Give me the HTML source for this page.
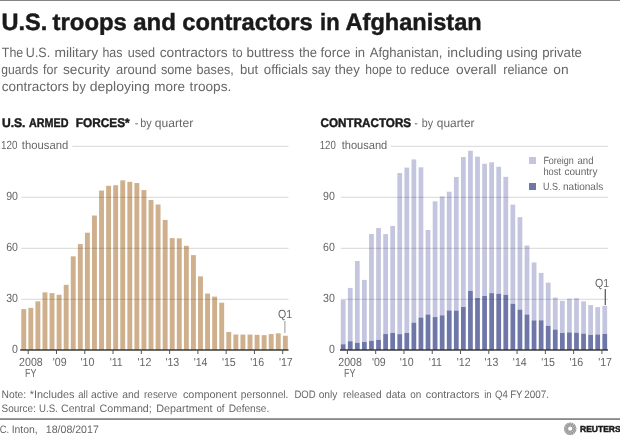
<!DOCTYPE html>
<html lang="en"><head><meta charset="utf-8"><title>U.S. troops and contractors in Afghanistan</title>
<style>html,body{margin:0;padding:0;background:#fff}body{width:620px;height:436px;overflow:hidden}svg{display:block}text{font-family:"Liberation Sans",sans-serif;white-space:pre;text-rendering:geometricPrecision}.b{font-weight:bold;fill:#1a1a1a;stroke:#1a1a1a;stroke-width:0.45px}.l{fill:#666666}</style></head><body>
<svg width="620" height="436" viewBox="0 0 620 436">
<rect width="620" height="436" fill="#fff"/>
<rect x="0" y="0" width="620" height="1" fill="#858585"/>
<text y="30.1" font-size="23.5" class="b"><tspan x="1.50" textLength="45.84" lengthAdjust="spacingAndGlyphs">U.S.</tspan> <tspan x="52.60" textLength="74.27" lengthAdjust="spacingAndGlyphs">troops</tspan> <tspan x="133.20" textLength="42.68" lengthAdjust="spacingAndGlyphs">and</tspan> <tspan x="182.30" textLength="130.47" lengthAdjust="spacingAndGlyphs">contractors</tspan> <tspan x="320.07" textLength="19.50" lengthAdjust="spacingAndGlyphs">in</tspan> <tspan x="345.60" textLength="136.06" lengthAdjust="spacingAndGlyphs">Afghanistan</tspan></text>
<text y="56.5" font-size="13.5" class="l"><tspan x="1.84" textLength="21.40" lengthAdjust="spacingAndGlyphs">The</tspan> <tspan x="25.87" textLength="24.32" lengthAdjust="spacingAndGlyphs">U.S.</tspan> <tspan x="54.40" textLength="43.74" lengthAdjust="spacingAndGlyphs">military</tspan> <tspan x="102.48" textLength="20.02" lengthAdjust="spacingAndGlyphs">has</tspan> <tspan x="127.70" textLength="27.48" lengthAdjust="spacingAndGlyphs">used</tspan> <tspan x="159.70" textLength="67.95" lengthAdjust="spacingAndGlyphs">contractors</tspan> <tspan x="232.31" textLength="10.36" lengthAdjust="spacingAndGlyphs">to</tspan> <tspan x="246.50" textLength="47.65" lengthAdjust="spacingAndGlyphs">buttress</tspan> <tspan x="298.90" textLength="18.19" lengthAdjust="spacingAndGlyphs">the</tspan> <tspan x="320.60" textLength="29.80" lengthAdjust="spacingAndGlyphs">force</tspan> <tspan x="354.90" textLength="10.19" lengthAdjust="spacingAndGlyphs">in</tspan> <tspan x="369.70" textLength="72.73" lengthAdjust="spacingAndGlyphs">Afghanistan,</tspan> <tspan x="447.26" textLength="55.41" lengthAdjust="spacingAndGlyphs">including</tspan> <tspan x="506.30" textLength="31.70" lengthAdjust="spacingAndGlyphs">using</tspan> <tspan x="542.20" textLength="39.80" lengthAdjust="spacingAndGlyphs">private</tspan></text>
<text y="73.6" font-size="13.5" class="l"><tspan x="1.37" textLength="37.04" lengthAdjust="spacingAndGlyphs">guards</tspan> <tspan x="43.00" textLength="14.53" lengthAdjust="spacingAndGlyphs">for</tspan> <tspan x="62.91" textLength="47.32" lengthAdjust="spacingAndGlyphs">security</tspan> <tspan x="116.00" textLength="40.39" lengthAdjust="spacingAndGlyphs">around</tspan> <tspan x="160.90" textLength="31.18" lengthAdjust="spacingAndGlyphs">some</tspan> <tspan x="196.60" textLength="37.10" lengthAdjust="spacingAndGlyphs">bases,</tspan> <tspan x="240.00" textLength="18.26" lengthAdjust="spacingAndGlyphs">but</tspan> <tspan x="263.80" textLength="44.05" lengthAdjust="spacingAndGlyphs">officials</tspan> <tspan x="311.81" textLength="18.85" lengthAdjust="spacingAndGlyphs">say</tspan> <tspan x="334.80" textLength="24.96" lengthAdjust="spacingAndGlyphs">they</tspan> <tspan x="365.20" textLength="26.95" lengthAdjust="spacingAndGlyphs">hope</tspan> <tspan x="396.03" textLength="10.10" lengthAdjust="spacingAndGlyphs">to</tspan> <tspan x="410.40" textLength="39.18" lengthAdjust="spacingAndGlyphs">reduce</tspan> <tspan x="456.07" textLength="40.46" lengthAdjust="spacingAndGlyphs">overall</tspan> <tspan x="503.30" textLength="44.38" lengthAdjust="spacingAndGlyphs">reliance</tspan> <tspan x="553.37" textLength="15.28" lengthAdjust="spacingAndGlyphs">on</tspan></text>
<text y="90.5" font-size="13.5" class="l"><tspan x="1.70" textLength="67.05" lengthAdjust="spacingAndGlyphs">contractors</tspan> <tspan x="72.35" textLength="13.36" lengthAdjust="spacingAndGlyphs">by</tspan> <tspan x="89.70" textLength="60.03" lengthAdjust="spacingAndGlyphs">deploying</tspan> <tspan x="154.30" textLength="30.71" lengthAdjust="spacingAndGlyphs">more</tspan> <tspan x="189.60" textLength="41.66" lengthAdjust="spacingAndGlyphs">troops.</tspan></text>
<text y="126.7" font-size="12.5" class="b"><tspan x="1.90" textLength="23.56" lengthAdjust="spacingAndGlyphs">U.S.</tspan> <tspan x="29.00" textLength="39.52" lengthAdjust="spacingAndGlyphs">ARMED</tspan> <tspan x="75.80" textLength="53.87" lengthAdjust="spacingAndGlyphs">FORCES*</tspan></text>
<text y="126.6" font-size="12.0" class="l"><tspan x="134.75" textLength="3.59" lengthAdjust="spacingAndGlyphs">-</tspan> <tspan x="140.26" textLength="11.38" lengthAdjust="spacingAndGlyphs">by</tspan> <tspan x="154.80" textLength="38.40" lengthAdjust="spacingAndGlyphs">quarter</tspan></text>
<text y="126.7" font-size="12.5" class="b"><tspan x="320.60" textLength="90.51" lengthAdjust="spacingAndGlyphs">CONTRACTORS</tspan></text>
<text y="126.6" font-size="12.0" class="l"><tspan x="414.32" textLength="3.57" lengthAdjust="spacingAndGlyphs">-</tspan> <tspan x="421.74" textLength="11.31" lengthAdjust="spacingAndGlyphs">by</tspan> <tspan x="436.80" textLength="37.70" lengthAdjust="spacingAndGlyphs">quarter</tspan></text>
<rect x="21.30" y="309.10" width="4.9" height="40.90" fill="#cfb08d"/>
<rect x="28.37" y="307.87" width="4.9" height="42.13" fill="#cfb08d"/>
<rect x="35.44" y="301.30" width="4.9" height="48.70" fill="#cfb08d"/>
<rect x="42.51" y="292.37" width="4.9" height="57.63" fill="#cfb08d"/>
<rect x="49.58" y="293.13" width="4.9" height="56.86" fill="#cfb08d"/>
<rect x="56.65" y="294.75" width="4.9" height="55.25" fill="#cfb08d"/>
<rect x="63.72" y="284.81" width="4.9" height="65.19" fill="#cfb08d"/>
<rect x="70.79" y="256.32" width="4.9" height="93.68" fill="#cfb08d"/>
<rect x="77.86" y="244.09" width="4.9" height="105.91" fill="#cfb08d"/>
<rect x="84.93" y="232.70" width="4.9" height="117.30" fill="#cfb08d"/>
<rect x="92.00" y="215.53" width="4.9" height="134.47" fill="#cfb08d"/>
<rect x="99.07" y="190.54" width="4.9" height="159.46" fill="#cfb08d"/>
<rect x="106.14" y="185.78" width="4.9" height="164.22" fill="#cfb08d"/>
<rect x="113.21" y="185.27" width="4.9" height="164.73" fill="#cfb08d"/>
<rect x="120.28" y="180.34" width="4.9" height="169.66" fill="#cfb08d"/>
<rect x="127.35" y="181.87" width="4.9" height="168.13" fill="#cfb08d"/>
<rect x="134.42" y="183.06" width="4.9" height="166.94" fill="#cfb08d"/>
<rect x="141.49" y="190.03" width="4.9" height="159.97" fill="#cfb08d"/>
<rect x="148.56" y="200.06" width="4.9" height="149.94" fill="#cfb08d"/>
<rect x="155.63" y="204.48" width="4.9" height="145.52" fill="#cfb08d"/>
<rect x="162.70" y="219.95" width="4.9" height="130.05" fill="#cfb08d"/>
<rect x="169.77" y="238.14" width="4.9" height="111.86" fill="#cfb08d"/>
<rect x="176.84" y="238.31" width="4.9" height="111.69" fill="#cfb08d"/>
<rect x="183.91" y="245.79" width="4.9" height="104.21" fill="#cfb08d"/>
<rect x="190.98" y="255.14" width="4.9" height="94.86" fill="#cfb08d"/>
<rect x="198.05" y="276.39" width="4.9" height="73.61" fill="#cfb08d"/>
<rect x="205.12" y="293.56" width="4.9" height="56.44" fill="#cfb08d"/>
<rect x="212.19" y="296.62" width="4.9" height="53.38" fill="#cfb08d"/>
<rect x="219.26" y="302.74" width="4.9" height="47.26" fill="#cfb08d"/>
<rect x="226.33" y="331.98" width="4.9" height="18.02" fill="#cfb08d"/>
<rect x="233.40" y="334.53" width="4.9" height="15.47" fill="#cfb08d"/>
<rect x="240.47" y="334.60" width="4.9" height="15.40" fill="#cfb08d"/>
<rect x="247.54" y="334.53" width="4.9" height="15.47" fill="#cfb08d"/>
<rect x="254.61" y="334.82" width="4.9" height="15.18" fill="#cfb08d"/>
<rect x="261.68" y="335.16" width="4.9" height="14.84" fill="#cfb08d"/>
<rect x="268.75" y="334.08" width="4.9" height="15.92" fill="#cfb08d"/>
<rect x="275.82" y="333.34" width="4.9" height="16.66" fill="#cfb08d"/>
<rect x="282.89" y="335.72" width="4.9" height="14.28" fill="#cfb08d"/>
<rect x="340.80" y="299.90" width="4.75" height="44.35" fill="#c4c6df"/>
<rect x="340.80" y="344.24" width="4.75" height="5.76" fill="#6f77a8"/>
<rect x="347.87" y="287.92" width="4.75" height="53.32" fill="#c4c6df"/>
<rect x="347.87" y="341.24" width="4.75" height="8.76" fill="#6f77a8"/>
<rect x="354.94" y="261.03" width="4.75" height="81.80" fill="#c4c6df"/>
<rect x="354.94" y="342.83" width="4.75" height="7.17" fill="#6f77a8"/>
<rect x="362.01" y="279.91" width="4.75" height="62.06" fill="#c4c6df"/>
<rect x="362.01" y="341.97" width="4.75" height="8.03" fill="#6f77a8"/>
<rect x="369.08" y="233.97" width="4.75" height="106.84" fill="#c4c6df"/>
<rect x="369.08" y="340.81" width="4.75" height="9.19" fill="#6f77a8"/>
<rect x="376.15" y="228.02" width="4.75" height="111.85" fill="#c4c6df"/>
<rect x="376.15" y="339.87" width="4.75" height="10.13" fill="#6f77a8"/>
<rect x="383.22" y="234.07" width="4.75" height="99.99" fill="#c4c6df"/>
<rect x="383.22" y="334.06" width="4.75" height="15.94" fill="#6f77a8"/>
<rect x="390.29" y="225.95" width="4.75" height="106.98" fill="#c4c6df"/>
<rect x="390.29" y="332.94" width="4.75" height="17.06" fill="#6f77a8"/>
<rect x="397.36" y="173.03" width="4.75" height="161.12" fill="#c4c6df"/>
<rect x="397.36" y="334.15" width="4.75" height="15.85" fill="#6f77a8"/>
<rect x="404.43" y="167.60" width="4.75" height="165.37" fill="#c4c6df"/>
<rect x="404.43" y="332.97" width="4.75" height="17.03" fill="#6f77a8"/>
<rect x="411.50" y="159.44" width="4.75" height="163.22" fill="#c4c6df"/>
<rect x="411.50" y="322.66" width="4.75" height="27.34" fill="#6f77a8"/>
<rect x="418.57" y="167.29" width="4.75" height="150.24" fill="#c4c6df"/>
<rect x="418.57" y="317.52" width="4.75" height="32.48" fill="#6f77a8"/>
<rect x="425.64" y="229.98" width="4.75" height="84.53" fill="#c4c6df"/>
<rect x="425.64" y="314.51" width="4.75" height="35.49" fill="#6f77a8"/>
<rect x="432.71" y="201.28" width="4.75" height="115.77" fill="#c4c6df"/>
<rect x="432.71" y="317.05" width="4.75" height="32.95" fill="#6f77a8"/>
<rect x="439.78" y="196.42" width="4.75" height="118.87" fill="#c4c6df"/>
<rect x="439.78" y="315.30" width="4.75" height="34.70" fill="#6f77a8"/>
<rect x="446.85" y="191.70" width="4.75" height="118.70" fill="#c4c6df"/>
<rect x="446.85" y="310.40" width="4.75" height="39.60" fill="#6f77a8"/>
<rect x="453.92" y="176.96" width="4.75" height="133.62" fill="#c4c6df"/>
<rect x="453.92" y="310.58" width="4.75" height="39.42" fill="#6f77a8"/>
<rect x="460.99" y="157.07" width="4.75" height="149.95" fill="#c4c6df"/>
<rect x="460.99" y="307.01" width="4.75" height="42.99" fill="#6f77a8"/>
<rect x="468.06" y="150.71" width="4.75" height="140.19" fill="#c4c6df"/>
<rect x="468.06" y="290.90" width="4.75" height="59.10" fill="#6f77a8"/>
<rect x="475.13" y="156.65" width="4.75" height="141.39" fill="#c4c6df"/>
<rect x="475.13" y="298.03" width="4.75" height="51.97" fill="#6f77a8"/>
<rect x="482.20" y="163.74" width="4.75" height="132.17" fill="#c4c6df"/>
<rect x="482.20" y="295.92" width="4.75" height="54.08" fill="#6f77a8"/>
<rect x="489.27" y="162.31" width="4.75" height="130.83" fill="#c4c6df"/>
<rect x="489.27" y="293.15" width="4.75" height="56.85" fill="#6f77a8"/>
<rect x="496.34" y="166.75" width="4.75" height="126.97" fill="#c4c6df"/>
<rect x="496.34" y="293.72" width="4.75" height="56.28" fill="#6f77a8"/>
<rect x="503.41" y="176.85" width="4.75" height="118.00" fill="#c4c6df"/>
<rect x="503.41" y="294.85" width="4.75" height="55.15" fill="#6f77a8"/>
<rect x="510.48" y="204.60" width="4.75" height="99.18" fill="#c4c6df"/>
<rect x="510.48" y="303.78" width="4.75" height="46.22" fill="#6f77a8"/>
<rect x="517.55" y="217.17" width="4.75" height="92.43" fill="#c4c6df"/>
<rect x="517.55" y="309.60" width="4.75" height="40.40" fill="#6f77a8"/>
<rect x="524.62" y="245.53" width="4.75" height="69.00" fill="#c4c6df"/>
<rect x="524.62" y="314.53" width="4.75" height="35.47" fill="#6f77a8"/>
<rect x="531.69" y="262.47" width="4.75" height="57.94" fill="#c4c6df"/>
<rect x="531.69" y="320.41" width="4.75" height="29.59" fill="#6f77a8"/>
<rect x="538.76" y="272.91" width="4.75" height="47.38" fill="#c4c6df"/>
<rect x="538.76" y="320.29" width="4.75" height="29.71" fill="#6f77a8"/>
<rect x="545.83" y="282.66" width="4.75" height="43.16" fill="#c4c6df"/>
<rect x="545.83" y="325.82" width="4.75" height="24.18" fill="#6f77a8"/>
<rect x="552.90" y="297.61" width="4.75" height="31.94" fill="#c4c6df"/>
<rect x="552.90" y="329.54" width="4.75" height="20.46" fill="#6f77a8"/>
<rect x="559.97" y="300.82" width="4.75" height="32.15" fill="#c4c6df"/>
<rect x="559.97" y="332.97" width="4.75" height="17.03" fill="#6f77a8"/>
<rect x="567.04" y="298.64" width="4.75" height="33.77" fill="#c4c6df"/>
<rect x="567.04" y="332.41" width="4.75" height="17.59" fill="#6f77a8"/>
<rect x="574.11" y="298.23" width="4.75" height="34.52" fill="#c4c6df"/>
<rect x="574.11" y="332.74" width="4.75" height="17.26" fill="#6f77a8"/>
<rect x="581.18" y="301.34" width="4.75" height="32.28" fill="#c4c6df"/>
<rect x="581.18" y="333.61" width="4.75" height="16.39" fill="#6f77a8"/>
<rect x="588.25" y="305.06" width="4.75" height="29.92" fill="#c4c6df"/>
<rect x="588.25" y="334.98" width="4.75" height="15.02" fill="#6f77a8"/>
<rect x="595.32" y="307.17" width="4.75" height="27.29" fill="#c4c6df"/>
<rect x="595.32" y="334.46" width="4.75" height="15.54" fill="#6f77a8"/>
<rect x="602.39" y="305.76" width="4.75" height="28.13" fill="#c4c6df"/>
<rect x="602.39" y="333.89" width="4.75" height="16.11" fill="#6f77a8"/>
<rect x="21.3" y="298.80" width="267.20" height="1" fill="#000" opacity="0.16"/>
<rect x="21.3" y="247.80" width="267.20" height="1" fill="#000" opacity="0.16"/>
<rect x="21.3" y="196.80" width="267.20" height="1" fill="#000" opacity="0.16"/>
<rect x="72.3" y="145.80" width="216.20" height="1" fill="#000" opacity="0.16"/>
<rect x="340.8" y="298.80" width="267.20" height="1" fill="#000" opacity="0.16"/>
<rect x="340.8" y="247.80" width="267.20" height="1" fill="#000" opacity="0.16"/>
<rect x="340.8" y="196.80" width="267.20" height="1" fill="#000" opacity="0.16"/>
<rect x="390.5" y="145.80" width="217.50" height="1" fill="#000" opacity="0.16"/>
<rect x="20.2" y="349.3" width="268.30" height="1.4" fill="#2e2e2e"/>
<rect x="27.70" y="350.0" width="1" height="4" fill="#555"/>
<rect x="55.98" y="350.0" width="1" height="4" fill="#555"/>
<rect x="84.26" y="350.0" width="1" height="4" fill="#555"/>
<rect x="112.54" y="350.0" width="1" height="4" fill="#555"/>
<rect x="140.82" y="350.0" width="1" height="4" fill="#555"/>
<rect x="169.10" y="350.0" width="1" height="4" fill="#555"/>
<rect x="197.38" y="350.0" width="1" height="4" fill="#555"/>
<rect x="225.66" y="350.0" width="1" height="4" fill="#555"/>
<rect x="253.94" y="350.0" width="1" height="4" fill="#555"/>
<rect x="282.22" y="350.0" width="1" height="4" fill="#555"/>
<text x="19.09" y="365.8" font-size="11.8" class="l" textLength="23.62" lengthAdjust="spacingAndGlyphs">2008</text>
<text x="52.71" y="365.8" font-size="11.8" class="l" textLength="13.84" lengthAdjust="spacingAndGlyphs">'09</text>
<text x="80.54" y="365.8" font-size="11.8" class="l" textLength="13.84" lengthAdjust="spacingAndGlyphs">'10</text>
<text x="109.67" y="365.8" font-size="11.8" class="l" textLength="13.05" lengthAdjust="spacingAndGlyphs">'11</text>
<text x="137.55" y="365.8" font-size="11.8" class="l" textLength="13.84" lengthAdjust="spacingAndGlyphs">'12</text>
<text x="165.38" y="365.8" font-size="11.8" class="l" textLength="13.84" lengthAdjust="spacingAndGlyphs">'13</text>
<text x="193.66" y="365.8" font-size="11.8" class="l" textLength="13.84" lengthAdjust="spacingAndGlyphs">'14</text>
<text x="221.94" y="365.8" font-size="11.8" class="l" textLength="13.84" lengthAdjust="spacingAndGlyphs">'15</text>
<text x="250.22" y="365.8" font-size="11.8" class="l" textLength="13.84" lengthAdjust="spacingAndGlyphs">'16</text>
<text x="278.95" y="365.8" font-size="11.8" class="l" textLength="13.84" lengthAdjust="spacingAndGlyphs">'17</text>
<text x="24.92" y="377.2" font-size="11.8" class="l" textLength="11.46" lengthAdjust="spacingAndGlyphs">FY</text>
<rect x="340" y="349.3" width="268.00" height="1.4" fill="#2e2e2e"/>
<rect x="346.90" y="350.0" width="1" height="4" fill="#555"/>
<rect x="375.18" y="350.0" width="1" height="4" fill="#555"/>
<rect x="403.46" y="350.0" width="1" height="4" fill="#555"/>
<rect x="431.74" y="350.0" width="1" height="4" fill="#555"/>
<rect x="460.02" y="350.0" width="1" height="4" fill="#555"/>
<rect x="488.30" y="350.0" width="1" height="4" fill="#555"/>
<rect x="516.58" y="350.0" width="1" height="4" fill="#555"/>
<rect x="544.86" y="350.0" width="1" height="4" fill="#555"/>
<rect x="573.14" y="350.0" width="1" height="4" fill="#555"/>
<rect x="601.42" y="350.0" width="1" height="4" fill="#555"/>
<text x="338.29" y="365.8" font-size="11.8" class="l" textLength="23.62" lengthAdjust="spacingAndGlyphs">2008</text>
<text x="371.91" y="365.8" font-size="11.8" class="l" textLength="13.84" lengthAdjust="spacingAndGlyphs">'09</text>
<text x="399.74" y="365.8" font-size="11.8" class="l" textLength="13.84" lengthAdjust="spacingAndGlyphs">'10</text>
<text x="428.87" y="365.8" font-size="11.8" class="l" textLength="13.05" lengthAdjust="spacingAndGlyphs">'11</text>
<text x="456.75" y="365.8" font-size="11.8" class="l" textLength="13.84" lengthAdjust="spacingAndGlyphs">'12</text>
<text x="484.58" y="365.8" font-size="11.8" class="l" textLength="13.84" lengthAdjust="spacingAndGlyphs">'13</text>
<text x="512.86" y="365.8" font-size="11.8" class="l" textLength="13.84" lengthAdjust="spacingAndGlyphs">'14</text>
<text x="541.14" y="365.8" font-size="11.8" class="l" textLength="13.84" lengthAdjust="spacingAndGlyphs">'15</text>
<text x="569.42" y="365.8" font-size="11.8" class="l" textLength="13.84" lengthAdjust="spacingAndGlyphs">'16</text>
<text x="598.15" y="365.8" font-size="11.8" class="l" textLength="13.84" lengthAdjust="spacingAndGlyphs">'17</text>
<text x="344.12" y="377.2" font-size="11.8" class="l" textLength="11.46" lengthAdjust="spacingAndGlyphs">FY</text>
<text x="12.10" y="352.9" font-size="11.8" class="l" textLength="5.90" lengthAdjust="spacingAndGlyphs">0</text>
<text x="6.20" y="301.9" font-size="11.8" class="l" textLength="11.81" lengthAdjust="spacingAndGlyphs">30</text>
<text x="6.20" y="250.9" font-size="11.8" class="l" textLength="11.81" lengthAdjust="spacingAndGlyphs">60</text>
<text x="6.20" y="199.9" font-size="11.8" class="l" textLength="11.81" lengthAdjust="spacingAndGlyphs">90</text>
<text x="328.90" y="352.9" font-size="11.8" class="l" textLength="5.90" lengthAdjust="spacingAndGlyphs">0</text>
<text x="323.00" y="301.9" font-size="11.8" class="l" textLength="11.81" lengthAdjust="spacingAndGlyphs">30</text>
<text x="323.00" y="250.9" font-size="11.8" class="l" textLength="11.81" lengthAdjust="spacingAndGlyphs">60</text>
<text x="323.00" y="199.9" font-size="11.8" class="l" textLength="11.81" lengthAdjust="spacingAndGlyphs">90</text>
<text y="149.2" font-size="11.8" class="l"><tspan x="1.01" textLength="16.42" lengthAdjust="spacingAndGlyphs">120</tspan> <tspan x="21.86" textLength="46.32" lengthAdjust="spacingAndGlyphs">thousand</tspan></text>
<text y="149.2" font-size="11.8" class="l"><tspan x="319.67" textLength="16.10" lengthAdjust="spacingAndGlyphs">120</tspan> <tspan x="341.69" textLength="45.54" lengthAdjust="spacingAndGlyphs">thousand</tspan></text>
<text x="277.97" y="317.5" font-size="11.8" class="l" textLength="14.16" lengthAdjust="spacingAndGlyphs">Q1</text>
<rect x="284.4" y="321" width="1" height="12" fill="#999"/>
<text x="594.97" y="286.5" font-size="11.8" class="l" textLength="14.16" lengthAdjust="spacingAndGlyphs">Q1</text>
<rect x="604.7" y="289" width="1.1" height="16" fill="#444"/>
<rect x="529" y="157" width="7" height="7" fill="#c4c6df"/>
<rect x="529" y="183" width="7" height="7" fill="#6f77a8"/>
<text y="163.6" font-size="10.4" class="l"><tspan x="543.40" textLength="30.41" lengthAdjust="spacingAndGlyphs">Foreign</tspan> <tspan x="577.50" textLength="16.00" lengthAdjust="spacingAndGlyphs">and</tspan></text>
<text y="174.7" font-size="10.4" class="l"><tspan x="543.40" textLength="17.50" lengthAdjust="spacingAndGlyphs">host</tspan> <tspan x="564.50" textLength="32.92" lengthAdjust="spacingAndGlyphs">country</tspan></text>
<text y="189.7" font-size="10.4" class="l"><tspan x="543.10" textLength="17.46" lengthAdjust="spacingAndGlyphs">U.S.</tspan> <tspan x="563.00" textLength="40.19" lengthAdjust="spacingAndGlyphs">nationals</tspan></text>
<text y="397.7" font-size="10.8" class="l"><tspan x="1.60" textLength="24.60" lengthAdjust="spacingAndGlyphs">Note:</tspan> <tspan x="29.80" textLength="44.60" lengthAdjust="spacingAndGlyphs">*Includes</tspan> <tspan x="78.24" textLength="9.57" lengthAdjust="spacingAndGlyphs">all</tspan> <tspan x="91.10" textLength="27.10" lengthAdjust="spacingAndGlyphs">active</tspan> <tspan x="122.30" textLength="17.20" lengthAdjust="spacingAndGlyphs">and</tspan> <tspan x="144.00" textLength="33.30" lengthAdjust="spacingAndGlyphs">reserve</tspan> <tspan x="182.92" textLength="53.76" lengthAdjust="spacingAndGlyphs">component</tspan> <tspan x="240.80" textLength="47.60" lengthAdjust="spacingAndGlyphs">personnel.</tspan> <tspan x="294.43" textLength="21.27" lengthAdjust="spacingAndGlyphs">DOD</tspan> <tspan x="318.70" textLength="18.73" lengthAdjust="spacingAndGlyphs">only</tspan> <tspan x="342.90" textLength="38.60" lengthAdjust="spacingAndGlyphs">released</tspan> <tspan x="386.10" textLength="19.70" lengthAdjust="spacingAndGlyphs">data</tspan> <tspan x="410.30" textLength="11.00" lengthAdjust="spacingAndGlyphs">on</tspan> <tspan x="425.73" textLength="53.74" lengthAdjust="spacingAndGlyphs">contractors</tspan> <tspan x="484.13" textLength="7.45" lengthAdjust="spacingAndGlyphs">in</tspan> <tspan x="495.02" textLength="12.77" lengthAdjust="spacingAndGlyphs">Q4</tspan> <tspan x="510.17" textLength="12.23" lengthAdjust="spacingAndGlyphs">FY</tspan> <tspan x="524.20" textLength="24.80" lengthAdjust="spacingAndGlyphs">2007.</tspan></text>
<text y="411.5" font-size="10.8" class="l"><tspan x="1.60" textLength="34.30" lengthAdjust="spacingAndGlyphs">Source:</tspan> <tspan x="39.03" textLength="18.73" lengthAdjust="spacingAndGlyphs">U.S.</tspan> <tspan x="61.10" textLength="34.09" lengthAdjust="spacingAndGlyphs">Central</tspan> <tspan x="99.50" textLength="52.30" lengthAdjust="spacingAndGlyphs">Command;</tspan> <tspan x="156.30" textLength="56.30" lengthAdjust="spacingAndGlyphs">Department</tspan> <tspan x="216.44" textLength="8.03" lengthAdjust="spacingAndGlyphs">of</tspan> <tspan x="228.70" textLength="40.60" lengthAdjust="spacingAndGlyphs">Defense.</tspan></text>
<rect x="0" y="418.5" width="620" height="1.1" fill="#3c3c3c"/>
<text y="432.6" font-size="10.8" class="l"><tspan x="-0.37" textLength="9.43" lengthAdjust="spacingAndGlyphs">C.</tspan> <tspan x="11.64" textLength="26.06" lengthAdjust="spacingAndGlyphs">Inton,</tspan> <tspan x="45.80" textLength="53.00" lengthAdjust="spacingAndGlyphs">18/08/2017</tspan></text>
<circle cx="570.2" cy="428.7" r="4.2" fill="none" stroke="#9a9a9a" stroke-width="4.2"/>
<g fill="#fff" opacity="0.55">
<circle cx="575.50" cy="428.70" r="0.55"/>
<circle cx="574.98" cy="431.00" r="0.55"/>
<circle cx="573.50" cy="432.84" r="0.55"/>
<circle cx="571.38" cy="433.87" r="0.55"/>
<circle cx="569.02" cy="433.87" r="0.55"/>
<circle cx="566.90" cy="432.84" r="0.55"/>
<circle cx="565.42" cy="431.00" r="0.55"/>
<circle cx="564.90" cy="428.70" r="0.55"/>
<circle cx="565.42" cy="426.40" r="0.55"/>
<circle cx="566.90" cy="424.56" r="0.55"/>
<circle cx="569.02" cy="423.53" r="0.55"/>
<circle cx="571.38" cy="423.53" r="0.55"/>
<circle cx="573.50" cy="424.56" r="0.55"/>
<circle cx="574.98" cy="426.40" r="0.55"/>
<circle cx="573.64" cy="429.76" r="0.5"/>
<circle cx="572.36" cy="431.58" r="0.5"/>
<circle cx="570.25" cy="432.30" r="0.5"/>
<circle cx="568.13" cy="431.64" r="0.5"/>
<circle cx="566.79" cy="429.86" r="0.5"/>
<circle cx="566.76" cy="427.64" r="0.5"/>
<circle cx="568.04" cy="425.82" r="0.5"/>
<circle cx="570.15" cy="425.10" r="0.5"/>
<circle cx="572.27" cy="425.76" r="0.5"/>
<circle cx="573.61" cy="427.54" r="0.5"/>
</g>
<text y="431.7" font-size="8.7" class="b"><tspan x="580.00" textLength="40.60" lengthAdjust="spacingAndGlyphs">REUTERS</tspan></text>
</svg></body></html>
